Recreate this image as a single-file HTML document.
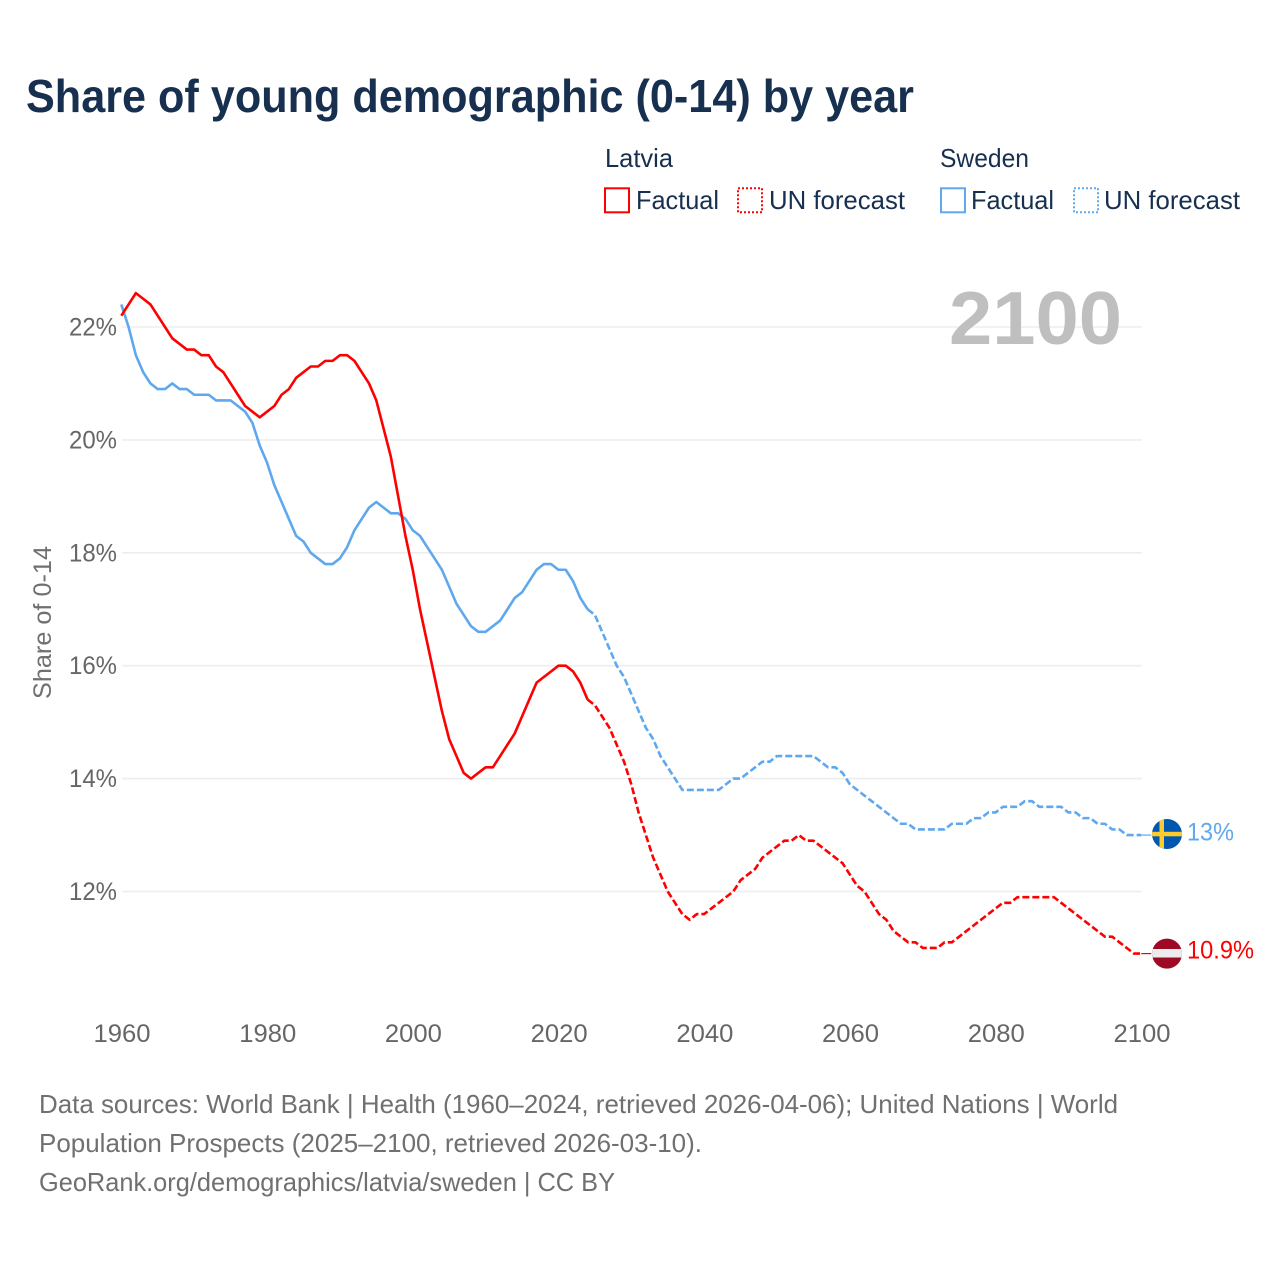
<!DOCTYPE html>
<html lang="en">
<head>
<meta charset="utf-8">
<title>Share of young demographic (0-14) by year</title>
<style>
html,body{margin:0;padding:0;background:#fff;}
svg{display:block;font-family:"Liberation Sans",sans-serif;}
</style>
</head>
<body>
<svg id="chart" width="1280" height="1280" viewBox="0 0 1280 1280" xmlns="http://www.w3.org/2000/svg">
  <defs>
    <clipPath id="clip-se"><circle cx="1167" cy="834" r="15"/></clipPath>
    <clipPath id="clip-lv"><circle cx="1167" cy="953.6" r="15"/></clipPath>
  </defs>
  <rect x="0" y="0" width="1280" height="1280" fill="#fff"/>
  <text x="26" y="112" font-size="46" font-weight="700" fill="#17304f" textLength="888" lengthAdjust="spacingAndGlyphs">Share of young demographic (0-14) by year</text>

  <g font-size="26" fill="#17304f">
    <text x="605" y="167" textLength="68" lengthAdjust="spacingAndGlyphs">Latvia</text>
    <text x="940" y="167" textLength="89" lengthAdjust="spacingAndGlyphs">Sweden</text>
    <rect x="605" y="188.3" width="24" height="24" fill="none" stroke="#ff0000" stroke-width="2"/>
    <text x="636" y="209" textLength="83" lengthAdjust="spacingAndGlyphs">Factual</text>
    <rect x="738" y="188.3" width="24" height="24" fill="none" stroke="#ff0000" stroke-width="2" stroke-dasharray="2 2"/>
    <text x="769" y="209" textLength="136" lengthAdjust="spacingAndGlyphs">UN forecast</text>
    <rect x="941" y="188.3" width="24" height="24" fill="none" stroke="#5fa8ee" stroke-width="2"/>
    <text x="971" y="209" textLength="83" lengthAdjust="spacingAndGlyphs">Factual</text>
    <rect x="1074" y="188.3" width="24" height="24" fill="none" stroke="#5fa8ee" stroke-width="2" stroke-dasharray="2 2"/>
    <text x="1104" y="209" textLength="136" lengthAdjust="spacingAndGlyphs">UN forecast</text>
  </g>

  <g id="grid"></g>
  <g id="yticks" font-size="25" fill="#666"></g>
  <g id="xticks" font-size="25" fill="#666"></g>

  <text transform="translate(51,622.5) rotate(-90)" text-anchor="middle" font-size="25" fill="#707070" textLength="153" lengthAdjust="spacingAndGlyphs">Share of 0-14</text>
  <text x="949" y="344" font-size="75" font-weight="700" fill="#bfbfbf" textLength="173" lengthAdjust="spacingAndGlyphs">2100</text>

  <g id="series"></g>

  <g>
    <g clip-path="url(#clip-se)">
      <rect x="1152" y="819" width="30" height="30" fill="#0057ae"/>
      <rect x="1159.5" y="819" width="4.5" height="30" fill="#fecb2e"/>
      <rect x="1152" y="831.8" width="30" height="4.5" fill="#fecb2e"/>
    </g>
    <text x="1187" y="840.5" font-size="25" fill="#5fa8ee" textLength="47" lengthAdjust="spacingAndGlyphs">13%</text>
  </g>
  <g>
    <g clip-path="url(#clip-lv)">
      <rect x="1152" y="938" width="30" height="31" fill="#9e0a26"/>
      <rect x="1152" y="949" width="30" height="8.5" fill="#ececec"/>
    </g>
    <text x="1187" y="958.5" font-size="25" fill="#ff0000" textLength="67" lengthAdjust="spacingAndGlyphs">10.9%</text>
  </g>

  <g font-size="26" fill="#707070">
    <text x="39" y="1113" textLength="1079" lengthAdjust="spacingAndGlyphs">Data sources: World Bank | Health (1960–2024, retrieved 2026-04-06); United Nations | World</text>
    <text x="39" y="1152" textLength="663" lengthAdjust="spacingAndGlyphs">Population Prospects (2025–2100, retrieved 2026-03-10).</text>
    <text x="39" y="1191" textLength="576" lengthAdjust="spacingAndGlyphs">GeoRank.org/demographics/latvia/sweden | CC BY</text>
  </g>
</svg>

<script>
const xTickYears = [1960, 1980, 2000, 2020, 2040, 2060, 2080, 2100];
const yTickValues = [12, 14, 16, 18, 20, 22];

const factualStartYear = 1960;
const forecastStartYear = 2024;

const latviaFactual = [
  22.2, 22.4, 22.6, 22.5, 22.4, 22.2, 22.0, 21.8, 21.7, 21.6,
  21.6, 21.5, 21.5, 21.3, 21.2, 21.0, 20.8, 20.6, 20.5, 20.4,
  20.5, 20.6, 20.8, 20.9, 21.1, 21.2, 21.3, 21.3, 21.4, 21.4,
  21.5, 21.5, 21.4, 21.2, 21.0, 20.7, 20.2, 19.7, 19.0, 18.3,
  17.7, 17.0, 16.4, 15.8, 15.2, 14.7, 14.4, 14.1, 14.0, 14.1,
  14.2, 14.2, 14.4, 14.6, 14.8, 15.1, 15.4, 15.7, 15.8, 15.9,
  16.0, 16.0, 15.9, 15.7, 15.4
];
const latviaForecast = [
  15.4, 15.3, 15.1, 14.9, 14.6, 14.3, 13.9, 13.4, 13.0, 12.6,
  12.3, 12.0, 11.8, 11.6, 11.5, 11.6, 11.6, 11.7, 11.8, 11.9,
  12.0, 12.2, 12.3, 12.4, 12.6, 12.7, 12.8, 12.9, 12.9, 13.0,
  12.9, 12.9, 12.8, 12.7, 12.6, 12.5, 12.3, 12.1, 12.0, 11.8,
  11.6, 11.5, 11.3, 11.2, 11.1, 11.1, 11.0, 11.0, 11.0, 11.1,
  11.1, 11.2, 11.3, 11.4, 11.5, 11.6, 11.7, 11.8, 11.8, 11.9,
  11.9, 11.9, 11.9, 11.9, 11.9, 11.8, 11.7, 11.6, 11.5, 11.4,
  11.3, 11.2, 11.2, 11.1, 11.0, 10.9, 10.9
];
const swedenFactual = [
  22.4, 22.0, 21.5, 21.2, 21.0, 20.9, 20.9, 21.0, 20.9, 20.9,
  20.8, 20.8, 20.8, 20.7, 20.7, 20.7, 20.6, 20.5, 20.3, 19.9,
  19.6, 19.2, 18.9, 18.6, 18.3, 18.2, 18.0, 17.9, 17.8, 17.8,
  17.9, 18.1, 18.4, 18.6, 18.8, 18.9, 18.8, 18.7, 18.7, 18.6,
  18.4, 18.3, 18.1, 17.9, 17.7, 17.4, 17.1, 16.9, 16.7, 16.6,
  16.6, 16.7, 16.8, 17.0, 17.2, 17.3, 17.5, 17.7, 17.8, 17.8,
  17.7, 17.7, 17.5, 17.2, 17.0
];
const swedenForecast = [
  17.0, 16.9, 16.6, 16.3, 16.0, 15.8, 15.5, 15.2, 14.9, 14.7,
  14.4, 14.2, 14.0, 13.8, 13.8, 13.8, 13.8, 13.8, 13.8, 13.9,
  14.0, 14.0, 14.1, 14.2, 14.3, 14.3, 14.4, 14.4, 14.4, 14.4,
  14.4, 14.4, 14.3, 14.2, 14.2, 14.1, 13.9, 13.8, 13.7, 13.6,
  13.5, 13.4, 13.3, 13.2, 13.2, 13.1, 13.1, 13.1, 13.1, 13.1,
  13.2, 13.2, 13.2, 13.3, 13.3, 13.4, 13.4, 13.5, 13.5, 13.5,
  13.6, 13.6, 13.5, 13.5, 13.5, 13.5, 13.4, 13.4, 13.3, 13.3,
  13.2, 13.2, 13.1, 13.1, 13.0, 13.0, 13.0
];

const SVG_NS = 'http://www.w3.org/2000/svg';
const xScale = function (year) { return 122 + (year - 1960) * (1020 / 140); };
const seriesX = function (year) { return xScale(year) - 0.7; };
const yScale = function (value) { return 327 + (22 - value) * 56.45; };

const gridGroup = document.getElementById('grid');
const yTickGroup = document.getElementById('yticks');
const xTickGroup = document.getElementById('xticks');
const seriesGroup = document.getElementById('series');

yTickValues.forEach(function (value) {
  const line = document.createElementNS(SVG_NS, 'line');
  
  
  line.setAttribute('x1', xScale(1960));
  line.setAttribute('x2', xScale(2100));
  line.setAttribute('y1', yScale(value));
  line.setAttribute('y2', yScale(value));
  line.setAttribute('stroke', '#eeeeee');
  line.setAttribute('stroke-width', '1.6');
  gridGroup.appendChild(line);

  const label = document.createElementNS(SVG_NS, 'text');
  
  
  label.setAttribute('x', 69);
  label.setAttribute('y', yScale(value) + 8.5);
  label.setAttribute('textLength', 48);
  label.setAttribute('lengthAdjust', 'spacingAndGlyphs');
  label.textContent = value + '%';
  yTickGroup.appendChild(label);
});

xTickYears.forEach(function (year) {
  const label = document.createElementNS(SVG_NS, 'text');
  
  
  label.setAttribute('x', xScale(year) - 28.5);
  label.setAttribute('y', 1042);
  label.setAttribute('textLength', 57);
  label.setAttribute('lengthAdjust', 'spacingAndGlyphs');
  label.textContent = year;
  xTickGroup.appendChild(label);
});

function buildPoints(values, startYear) {
  return values.map(function (value, i) {
    return seriesX(startYear + i).toFixed(2) + ',' + yScale(value).toFixed(2);
  }).join(' ');
}

function drawSeries(values, startYear, color, dash, name) {
  const line = document.createElementNS(SVG_NS, 'polyline');
  
  
  line.setAttribute('points', buildPoints(values, startYear));
  line.setAttribute('fill', 'none');
  line.setAttribute('stroke', color);
  line.setAttribute('stroke-width', '2.6');
  line.setAttribute('stroke-linejoin', 'round');
  if (dash) {
    line.setAttribute('stroke-dasharray', dash);
  }
  seriesGroup.appendChild(line);
}

function drawConnector(values, color, name) {
  const endValue = values[values.length - 1];
  const line = document.createElementNS(SVG_NS, 'line');
  
  
  line.setAttribute('x1', seriesX(2100));
  line.setAttribute('x2', seriesX(2100) + 10);
  line.setAttribute('y1', yScale(endValue));
  line.setAttribute('y2', yScale(endValue));
  line.setAttribute('stroke', color);
  line.setAttribute('stroke-width', '1.2');
  seriesGroup.appendChild(line);
}

drawSeries(swedenFactual, factualStartYear, '#5fa8ee', null, 'sweden-factual-line');
drawSeries(swedenForecast, forecastStartYear, '#5fa8ee', '7 3', 'sweden-forecast-line');
drawSeries(latviaFactual, factualStartYear, '#ff0000', null, 'latvia-factual-line');
drawSeries(latviaForecast, forecastStartYear, '#ff0000', '7 3', 'latvia-forecast-line');
drawConnector(swedenForecast, '#5fa8ee', 'sweden-end-connector');
drawConnector(latviaForecast, '#ff0000', 'latvia-end-connector');
</script>
</body>
</html>
